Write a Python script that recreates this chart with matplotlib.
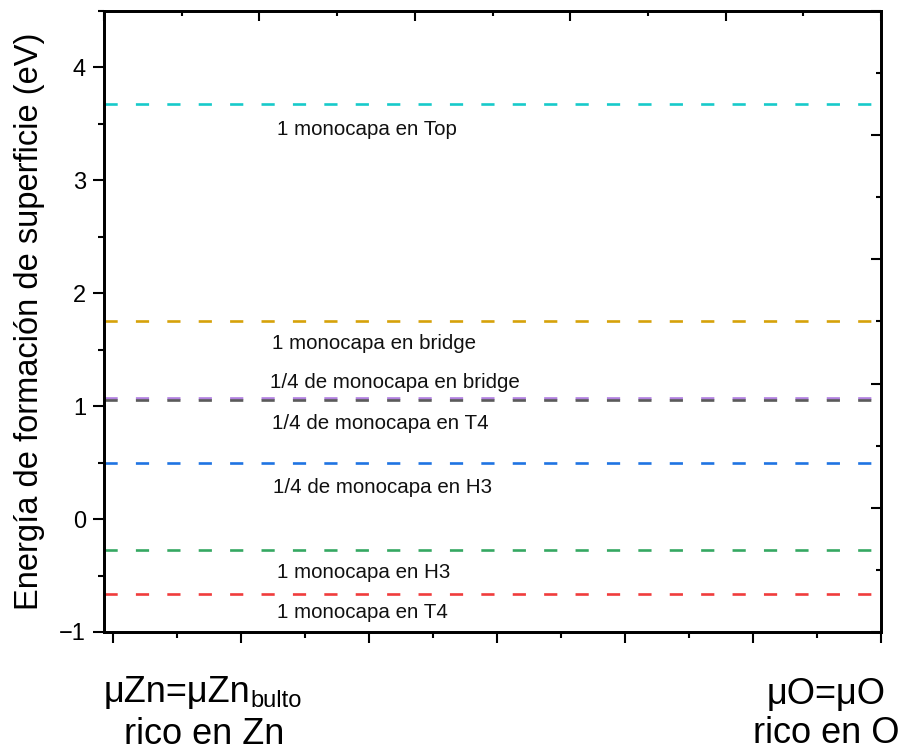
import matplotlib
matplotlib.use('Agg')
import matplotlib.pyplot as plt
from matplotlib.ticker import MultipleLocator, NullFormatter

plt.rcParams['font.family'] = ['Liberation Sans', 'DejaVu Sans']
plt.rcParams['axes.unicode_minus'] = True

# ---- data ----
energies = [3.68, 1.752, 1.075, 1.053, 0.493, -0.274, -0.664]
line_colors = ['#17caca', '#d6a20a', '#b07fdf', '#5a5a5a', '#1f74e2', '#35a862', '#f03c3c']
label_texts = ['1 monocapa en Top', '1 monocapa en bridge', '1/4 de monocapa en bridge',
               '1/4 de monocapa en T4', '1/4 de monocapa en H3', '1 monocapa en H3',
               '1 monocapa en T4']
label_x = [1.28, 1.24, 1.225, 1.24, 1.25, 1.28, 1.28]
label_y = [3.451, 1.558, 1.212, 0.850, 0.283, -0.469, -0.823]
yticks = [-1, 0, 1, 2, 3, 4]
ylabel = 'Energía de formación de superficie (eV)'
left_main, left_sub, left_line2 = 'μZn=μZn', 'bulto', 'rico en Zn'
right_line1, right_line2 = 'μO=μO', 'rico en O'

W, H = 902, 751
fig = plt.figure(figsize=(W / 100, H / 100), dpi=100)
ax = fig.add_axes([104 / W, (H - 632) / H, 777 / W, 621 / H])

xmin, xmax = -0.07, 6.0
ax.set_xlim(xmin, xmax)
ax.set_ylim(-1, 4.5)

for e, c in zip(energies, line_colors):
    ax.plot([xmin, xmax], [e, e], color=c, lw=1.9, dashes=(5.0, 6.9),
            dash_capstyle='butt')

for t, x, y in zip(label_texts, label_x, label_y):
    ax.text(x, y, t, fontsize=14.8, ha='left', va='center', color='#111111')

lw_sp = 1.8
for s in ax.spines.values():
    s.set_linewidth(lw_sp)

ax.set_yticks(yticks)
ax.yaxis.set_minor_locator(MultipleLocator(0.5))
ax.xaxis.set_major_locator(MultipleLocator(1))
ax.xaxis.set_minor_locator(MultipleLocator(0.5))
ax.xaxis.set_major_formatter(NullFormatter())
ax.tick_params(axis='y', which='major', direction='out', length=8, width=1.5, labelsize=17, pad=5)
ax.tick_params(axis='y', which='minor', direction='out', length=4, width=1.5)
ax.tick_params(axis='x', which='major', direction='out', length=8, width=1.5)
ax.tick_params(axis='x', which='minor', direction='out', length=4, width=1.5)
ax.set_ylabel(ylabel, fontsize=23.5, labelpad=10)

# top axis (independent ticks, inward)
axt = ax.twiny()
axt.set_xlim(0, 5)
axt.xaxis.set_major_locator(MultipleLocator(1))
axt.xaxis.set_minor_locator(MultipleLocator(0.5))
axt.xaxis.set_major_formatter(NullFormatter())
axt.tick_params(axis='x', which='major', direction='in', length=7, width=1.5)
axt.tick_params(axis='x', which='minor', direction='in', length=3.5, width=1.5)
axt.yaxis.set_visible(False)

# right axis (independent ticks, inward)
axr = ax.twinx()
axr.set_ylim(0, 5)
axr.yaxis.set_major_locator(MultipleLocator(1))
axr.yaxis.set_minor_locator(MultipleLocator(0.5))
axr.yaxis.set_major_formatter(NullFormatter())
axr.tick_params(axis='y', which='major', direction='in', length=7, width=1.5)
axr.tick_params(axis='y', which='minor', direction='in', length=3.5, width=1.5)
for a in (axt, axr):
    for s in a.spines.values():
        s.set_linewidth(lw_sp)

# bottom category labels
fs_x = 26
t_main = fig.text(104 / W, 1 - 702 / H, left_main, fontsize=fs_x, ha='left', va='baseline')
fig.canvas.draw()
bb = t_main.get_window_extent(fig.canvas.get_renderer())
fig.text(bb.x1 / W, 1 - 707 / H, left_sub, fontsize=17, ha='left', va='baseline')
fig.text(204 / W, 1 - 744 / H, left_line2, fontsize=fs_x, ha='center', va='baseline')
fig.text(826 / W, 1 - 704 / H, right_line1, fontsize=fs_x, ha='center', va='baseline')
fig.text(826 / W, 1 - 743 / H, right_line2, fontsize=fs_x, ha='center', va='baseline')

fig.savefig('out.png', dpi=100)
